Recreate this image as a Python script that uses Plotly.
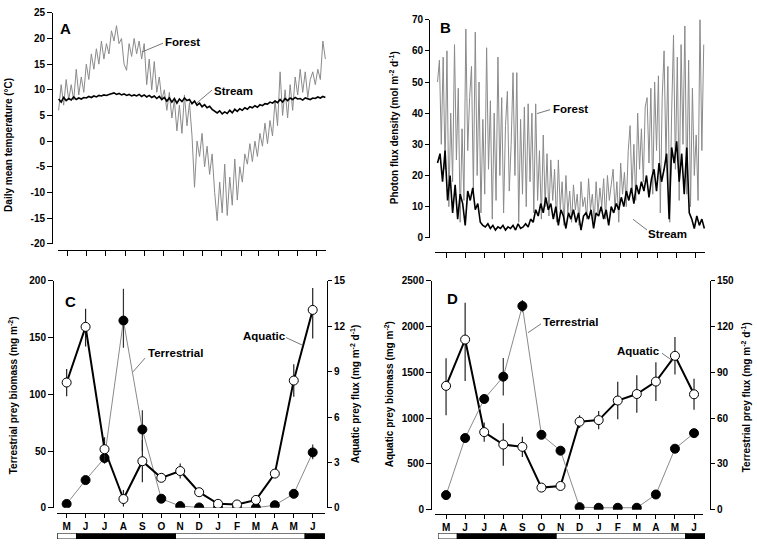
import plotly.graph_objects as go
import pandas as pd

W, H = 757, 549


def px(x):
    return x / W


def py(y):
    return 1 - y / H


# ---------------- Data ----------------
# Panel A: daily mean temperature (sampled every 4 days from 1 May)
forest_temp = [6, 11, 7, 12, 8, 11, 8, 14, 9, 12.5,
               9.5, 15, 12, 17, 14, 18, 15, 19.5, 16, 19,
               17, 21.5, 19.5, 22.5, 19, 20, 15, 13.8, 19, 16.5,
               20, 17, 19.5, 16, 19, 11, 16, 10, 15.5, 9.5,
               12.5, 8, 10, 6, 9.5, 4.5, 8, 2, 7, 1.5,
               9, 3, 7.5, 1, -9, 0, -3, 1.5, -5, -1,
               -6.5, -2.5, -10, -15.5, -8, -14, -4.5, -14.5, -7, -12.5,
               -3.5, -11.5, -5, -8, -2.5, -4.5, -0.5, -4, 0, -3,
               1.5, -1, 3.5, -0.5, 4, 1, 8, 3, 13.5, 5,
               10, 4.5, 11, 6, 12.5, 9, 14, 9.5, 13.5, 8.5,
               12, 13.5, 11, 14, 12, 19.5, 16]
stream_temp = [8.2, 7.6, 8.5, 7.9, 8.3, 8.0, 8.6, 8.1, 8.4, 8.2,
               8.5, 8.4, 8.7, 8.5, 8.8, 8.6, 8.9, 8.8, 9.0, 8.9,
               9.1, 9.2, 9.4, 9.1, 9.3, 9.0, 9.2, 8.9, 9.1, 8.8,
               9.0, 8.8, 9.1, 8.7, 9.0, 8.6, 8.9, 8.5, 8.8, 8.3,
               8.7, 8.1, 8.5, 7.8, 8.4, 7.6, 8.3, 7.4, 8.2, 7.7,
               8.4, 7.9, 8.1, 7.3, 7.8, 7.0, 7.4, 6.7, 7.1, 6.5,
               6.8, 6.2, 5.8, 5.5, 5.9, 5.3, 5.7, 5.4, 6.0, 5.5,
               6.2, 5.8, 6.3, 6.0, 6.5, 6.2, 6.7, 6.5, 6.9, 6.6,
               7.1, 6.9, 7.3, 7.2, 7.6, 7.4, 7.8, 7.5, 8.1, 7.6,
               8.3, 7.9, 8.4, 8.1, 8.5, 8.2, 8.3, 8.0, 8.4, 8.2,
               8.1, 8.4, 8.3, 8.6, 8.4, 8.7, 8.5]

# Panel B: photon flux density (mol m-2 d-1)
# forest sampled every 3 days, stream every 4 days, both from 1 May
forest_pfd = [50, 57, 30, 58, 22, 60, 10, 40, 18, 62,
              25, 48, 5, 35, 12, 67, 28, 45, 55, 15,
              66, 20, 50, 8, 38, 14, 61, 22, 44, 6,
              40, 12, 58, 20, 45, 8, 36, 47, 15, 30,
              53, 20, 53, 5, 38, 14, 42, 10, 43, 18,
              40, 8, 43, 12, 28, 6, 33, 10, 27, 7,
              25, 12, 22, 5, 25, 9, 18, 4, 20, 8,
              15, 5, 17, 9, 14, 4, 18, 10, 13, 6,
              19, 9, 14, 5, 18, 8, 16, 10, 19, 6,
              20, 12, 17, 22, 9, 18, 5, 24, 14, 21,
              10, 28, 36, 15, 30, 12, 40, 22, 35, 18,
              42, 45, 24, 48, 14, 50, 28, 52, 8, 45,
              60, 25, 55, 5, 40, 65, 22, 58, 12, 62,
              30, 68, 14, 57, 10, 48, 20, 33, 12, 71,
              28, 62]
stream_pfd = [24, 27, 18, 28, 12, 20, 8, 17, 6, 14,
              11, 4, 15, 12, 16, 9, 11, 5, 4, 3.5,
              4.5, 3, 4, 2.5, 3.5, 3, 4, 2.5, 3.5, 3,
              4, 2.5, 4.5, 3, 3.5, 4.5, 3.5, 6, 5, 9,
              7, 11, 8, 13, 9, 11, 6, 10, 4, 9,
              7, 3, 8, 6, 9, 5, 8, 2.5, 7, 8,
              6, 9, 3, 8, 7, 10, 6, 9, 4, 10,
              8, 11, 9, 13, 10, 15, 12, 16, 11, 17,
              14, 18, 15, 20, 13, 19, 22, 15, 24, 18,
              22, 27, 6, 29, 24, 31, 18, 27, 14, 29,
              8, 6, 3, 7, 4, 6, 3]

series_start = '2000-05-01'
month_tick_dates = ['2000-05-15', '2000-06-15', '2000-07-15', '2000-08-15',
                    '2000-09-15', '2000-10-15', '2000-11-15', '2000-12-15',
                    '2001-01-15', '2001-02-15', '2001-03-15', '2001-04-15',
                    '2001-05-15', '2001-06-15']

# Panels C and D: monthly values
months = ['M', 'J', 'J', 'A', 'S', 'O', 'N', 'D', 'J', 'F', 'M', 'A', 'M', 'J']
month_pos = list(range(len(months)))

# C: terrestrial prey biomass (mg m-2), left axis
c_terr = [3.4, 24.4, 43.9, 165, 69, 8, 1.5, 0.3, 0, 0, 0, 2.3, 12.3, 48.8]
c_terr_up = [0, 3, 5, 28, 17, 2, 0, 0, 0, 0, 0, 0, 2, 7]
c_terr_dn = [0, 3, 5, 24, 19, 2, 0, 0, 0, 0, 0, 0, 2, 6]
# C: aquatic prey flux (mg m-2 d-1), right axis
c_aq = [8.28, 11.96, 3.87, 0.58, 3.08, 1.98, 2.43, 1.03, 0.26, 0.22, 0.52, 2.26, 8.41, 13.08]
c_aq_up = [0.9, 1.2, 0.8, 0.6, 1.4, 0.2, 0.5, 0.1, 0.05, 0.05, 0.1, 0.15, 1.07, 1.44]
c_aq_dn = [0.9, 1.3, 0.8, 0.5, 1.4, 0.2, 0.5, 0.1, 0.05, 0.05, 0.1, 0.15, 1.07, 1.89]

# D: aquatic prey biomass (mg m-2), left axis
d_aq = [1353, 1859, 848, 712, 687, 242, 260, 962, 979, 1193, 1264, 1400, 1681, 1261]
d_aq_up = [303, 402, 105, 232, 110, 20, 20, 70, 100, 205, 205, 212, 205, 170]
d_aq_dn = [320, 453, 105, 231, 110, 20, 20, 70, 100, 205, 205, 212, 205, 170]
# D: terrestrial prey flux (mg m-2 d-1), right axis
d_terr = [9.6, 47, 72.6, 87.2, 133.5, 49.1, 38.7, 1.7, 1.3, 1.3, 1.3, 10, 40, 50.2]
d_terr_err = [0, 0, 3, 12.3, 4, 0, 2, 0, 0, 0, 0, 0, 0, 0]

# Seasonal strip under C and D (month units)
strip_start = [-0.5, 0.52, 5.75, 12.6]
strip_end = [0.52, 5.75, 12.6, 13.62]
strip_fill = ['white', 'black', 'white', 'black']

temp_ticks = [25, 20, 15, 10, 5, 0, -5, -10, -15, -20]
temp_tick_text = ['25', '20', '15', '10', '5', '0', '-5', '-10', '-15', '-20']
pfd_ticks = [0, 10, 20, 30, 40, 50, 60, 70]
c_left_ticks = [0, 50, 100, 150, 200]
c_right_ticks = [0, 3, 6, 9, 12, 15]
d_left_ticks = [0, 500, 1000, 1500, 2000, 2500]
d_right_ticks = [0, 30, 60, 90, 120, 150]

# ---------------- Figure ----------------
FONT = 'Liberation Sans, Arial, sans-serif'
GRAY = '#8a8a8a'


def bold(labels):
    return ['<b>%s</b>' % t for t in labels]


dates_a = pd.date_range(series_start, periods=len(forest_temp), freq='4D')
dates_bf = pd.date_range(series_start, periods=len(forest_pfd), freq='3D')
dates_bs = pd.date_range(series_start, periods=len(stream_pfd), freq='4D')

fig = go.Figure()

# A
fig.add_trace(go.Scatter(x=dates_a, y=forest_temp, mode='lines',
                         line=dict(color=GRAY, width=1), xaxis='x', yaxis='y'))
fig.add_trace(go.Scatter(x=dates_a, y=stream_temp, mode='lines',
                         line=dict(color='black', width=1.6), xaxis='x', yaxis='y'))
# B
fig.add_trace(go.Scatter(x=dates_bf, y=forest_pfd, mode='lines',
                         line=dict(color=GRAY, width=1), xaxis='x2', yaxis='y2'))
fig.add_trace(go.Scatter(x=dates_bs, y=stream_pfd, mode='lines',
                         line=dict(color='black', width=1.6), xaxis='x2', yaxis='y2'))

# C
fig.add_trace(go.Scatter(x=month_pos, y=c_terr, mode='lines+markers',
                         line=dict(color=GRAY, width=1),
                         marker=dict(size=9, color='black', line=dict(color='black', width=1)),
                         error_y=dict(type='data', array=c_terr_up, arrayminus=c_terr_dn,
                                      symmetric=False, width=0, thickness=1.2, color='#333'),
                         xaxis='x3', yaxis='y3'))
fig.add_trace(go.Scatter(x=month_pos, y=c_aq, mode='lines+markers',
                         line=dict(color='black', width=2),
                         marker=dict(size=9, color='white', line=dict(color='black', width=1)),
                         error_y=dict(type='data', array=c_aq_up, arrayminus=c_aq_dn,
                                      symmetric=False, width=0, thickness=1.2, color='#222'),
                         xaxis='x3', yaxis='y4'))

# D
fig.add_trace(go.Scatter(x=month_pos, y=d_terr, mode='lines+markers',
                         line=dict(color=GRAY, width=1),
                         marker=dict(size=9, color='black', line=dict(color='black', width=1)),
                         error_y=dict(type='data', array=d_terr_err, width=0,
                                      thickness=1.2, color='#333'),
                         xaxis='x4', yaxis='y6'))
fig.add_trace(go.Scatter(x=month_pos, y=d_aq, mode='lines+markers',
                         line=dict(color='black', width=2),
                         marker=dict(size=9, color='white', line=dict(color='black', width=1)),
                         error_y=dict(type='data', array=d_aq_up, arrayminus=d_aq_dn,
                                      symmetric=False, width=0, thickness=1.2, color='#222'),
                         xaxis='x4', yaxis='y5'))

# strips
strip_len = [e - s for s, e in zip(strip_start, strip_end)]
for xa, ya in (('x5', 'y7'), ('x6', 'y8')):
    fig.add_trace(go.Bar(y=[0] * len(strip_len), x=strip_len, base=strip_start,
                         orientation='h', width=1,
                         marker=dict(color=strip_fill, line=dict(color='black', width=1)),
                         cliponaxis=False, xaxis=xa, yaxis=ya))

tickfont = dict(family=FONT, size=10, color='black')
common = dict(showline=True, linecolor='black', linewidth=1, ticks='outside',
              ticklen=4, tickwidth=1, tickcolor='black', showgrid=False,
              zeroline=False, tickfont=tickfont)

fig.update_layout(
    width=W, height=H, margin=dict(l=0, r=0, t=0, b=0),
    paper_bgcolor='white', plot_bgcolor='white', showlegend=False,
    font=dict(family=FONT, color='black'),
    # A
    xaxis=dict(common, domain=[px(58), px(326)], anchor='free', position=py(249),
               type='date', range=['2000-04-30', '2001-06-30'], tickvals=month_tick_dates,
               showticklabels=False, ticklen=5),
    yaxis=dict(common, domain=[py(243), py(7)], anchor='free', position=px(52),
               range=[-20, 25], tickvals=temp_ticks, ticktext=bold(temp_tick_text),
               ticklen=5),
    # B
    xaxis2=dict(common, domain=[px(435), px(705)], anchor='free', position=py(251),
                type='date', range=['2000-04-27', '2001-06-30'], tickvals=month_tick_dates,
                showticklabels=False, ticklen=5),
    yaxis2=dict(common, domain=[py(237), py(14)], anchor='free', position=px(429),
                range=[0, 70], tickvals=pfd_ticks, ticktext=bold(pfd_ticks)),
    # C
    xaxis3=dict(common, domain=[px(57), px(325)], anchor='free', position=py(518),
                range=[-0.51, 13.65], tickvals=month_pos, ticktext=bold(months)),
    yaxis3=dict(common, domain=[py(513), py(281)], anchor='free', position=px(53),
                range=[0, 200], tickvals=c_left_ticks, ticktext=bold(c_left_ticks),
                ticklen=5),
    yaxis4=dict(common, domain=[py(513), py(281)], anchor='free', position=px(327),
                overlaying='y3', side='right', range=[0, 15], tickvals=c_right_ticks,
                ticktext=bold(c_right_ticks)),
    # D
    xaxis4=dict(common, domain=[px(435), px(703)], anchor='free', position=py(519),
                range=[-0.58, 13.47], tickvals=month_pos, ticktext=bold(months)),
    yaxis5=dict(common, domain=[py(515), py(281)], anchor='free', position=px(431),
                range=[0, 2500], tickvals=d_left_ticks, ticktext=bold(d_left_ticks),
                ticklen=5),
    yaxis6=dict(common, domain=[py(515), py(281)], anchor='free', position=px(710),
                overlaying='y5', side='right', range=[0, 150], tickvals=d_right_ticks,
                ticktext=bold(d_right_ticks)),
    # strips
    xaxis5=dict(domain=[px(57), px(325)], range=[-0.51, 13.65], visible=False,
                anchor='y7'),
    yaxis7=dict(domain=[py(545), py(539)], range=[-0.5, 0.5], visible=False,
                anchor='x5'),
    xaxis6=dict(domain=[px(438), px(705)], range=[-0.5, 13.62], visible=False,
                anchor='y8'),
    yaxis8=dict(domain=[py(545), py(539)], range=[-0.5, 0.5], visible=False,
                anchor='x6'),
)

annotations = []


def label(text, x, y, size=11.5, angle=0):
    annotations.append(dict(text='<b>%s</b>' % text, x=px(x), y=py(y),
                            xref='paper', yref='paper',
                            xanchor='center', yanchor='middle', showarrow=False,
                            textangle=angle,
                            font=dict(family=FONT, size=size, color='black')))


# panel letters
label('A', 65, 23, 15)
label('B', 446, 22, 15)
label('C', 70, 302, 15)
label('D', 452, 299, 15)
# axis titles
label('Daily mean temperature (°C)', 9, 142, 10, -90)
label('Photon flux density (mol m<sup>-2</sup> d<sup>-1</sup>)', 394, 125, 10, -90)
label('Terrestrial prey biomass (mg m<sup>-2</sup>)', 13, 398, 10, -90)
label('Aquatic prey flux (mg m<sup>-2</sup> d<sup>-1</sup>)', 355, 397, 10, -90)
label('Aquatic prey biomass (mg m<sup>-2</sup>)', 389, 397, 10, -90)
label('Terrestrial prey flux (mg m<sup>-2</sup> d<sup>-1</sup>)', 746, 400, 10, -90)
# series labels
label('Forest', 182, 37)
label('Stream', 233, 87)
label('Forest', 570, 105)
label('Stream', 667, 233)
label('Aquatic', 264, 337)
label('Terrestrial', 175, 355)
label('Terrestrial', 570, 323)
label('Aquatic', 638, 353)

leaders = [((163, 38), (142, 47)), ((212, 86), (197, 99)),
           ((550, 106), (537, 110)), ((647, 229), (633, 218)),
           ((286, 339), (303, 347)), ((145, 360), (133, 374)),
           ((541, 325), (528, 334)), ((662, 355), (673, 363))]
shapes = [dict(type='line', xref='paper', yref='paper', x0=px(a[0]), y0=py(a[1]),
               x1=px(b[0]), y1=py(b[1]), line=dict(color='#555', width=0.8))
          for a, b in leaders]

fig.update_layout(annotations=annotations, shapes=shapes)
fig.write_html('out.html', config={'displayModeBar': False},
               post_script="document.body.style.margin='0';"
                           "document.body.style.overflow='hidden';")
